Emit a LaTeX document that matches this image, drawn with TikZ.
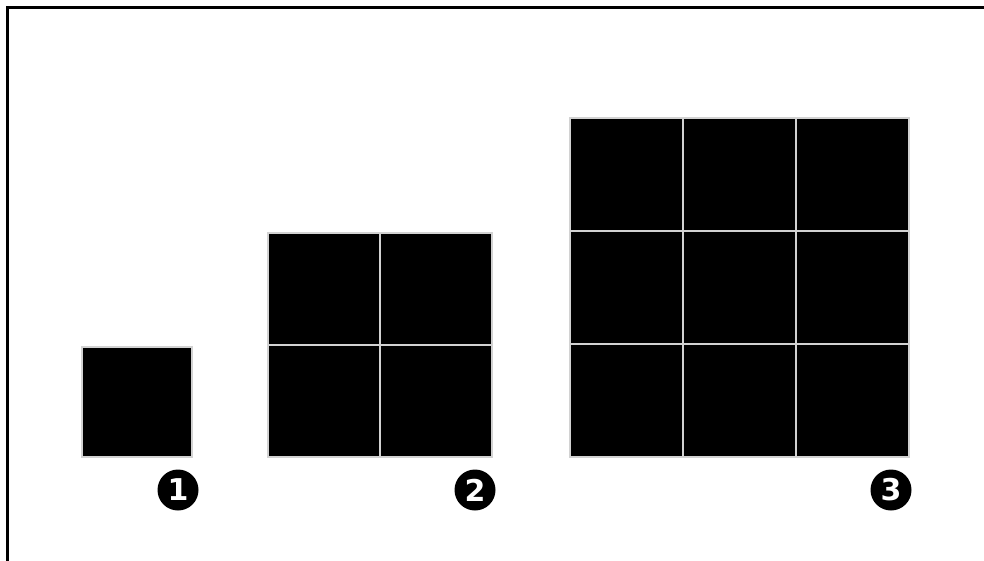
\documentclass[tikz,border=0pt]{standalone}
\usepackage{fontspec}
\setsansfont{DejaVu Sans}
\usetikzlibrary{positioning}

\tikzset{
  cell/.style={rectangle,fill=black,draw=gray!35,line width=1.6pt,inner sep=0pt,minimum size=#1},
  badge/.style={circle,fill=black,inner sep=0pt,minimum size=41pt,text=white,font=\sffamily\bfseries\fontsize{30}{30}\selectfont}
}

\begin{document}
\begin{tikzpicture}[x=1pt,y=-1pt]
  \useasboundingbox (0,0) rectangle (984,561);
  \fill[white] (0,0) rectangle (984,561);
  % frame (top and left edges)
  \draw[line width=3pt] (7,561) -- (7,8) -- (984,8);
  % grids: id/left/pitch/n
  \foreach \g/\x/\p/\n in {1/82/110/1,2/268/112/2,3/570/113/3} {
    \foreach \i in {1,...,\n} {
      \foreach \j in {1,...,\n} {
        \node[cell=\p pt] (c\g-\i-\j) at ({\x+(\i-0.5)*\p},{457-(\j-0.5)*\p}) {};
      }
    }
  }
  \node[badge] (n1) at (178,490) {1};
  \node[badge] (n2) at (475,490) {2};
  \node[badge] (n3) at (891,490) {3};
\end{tikzpicture}
\end{document}
